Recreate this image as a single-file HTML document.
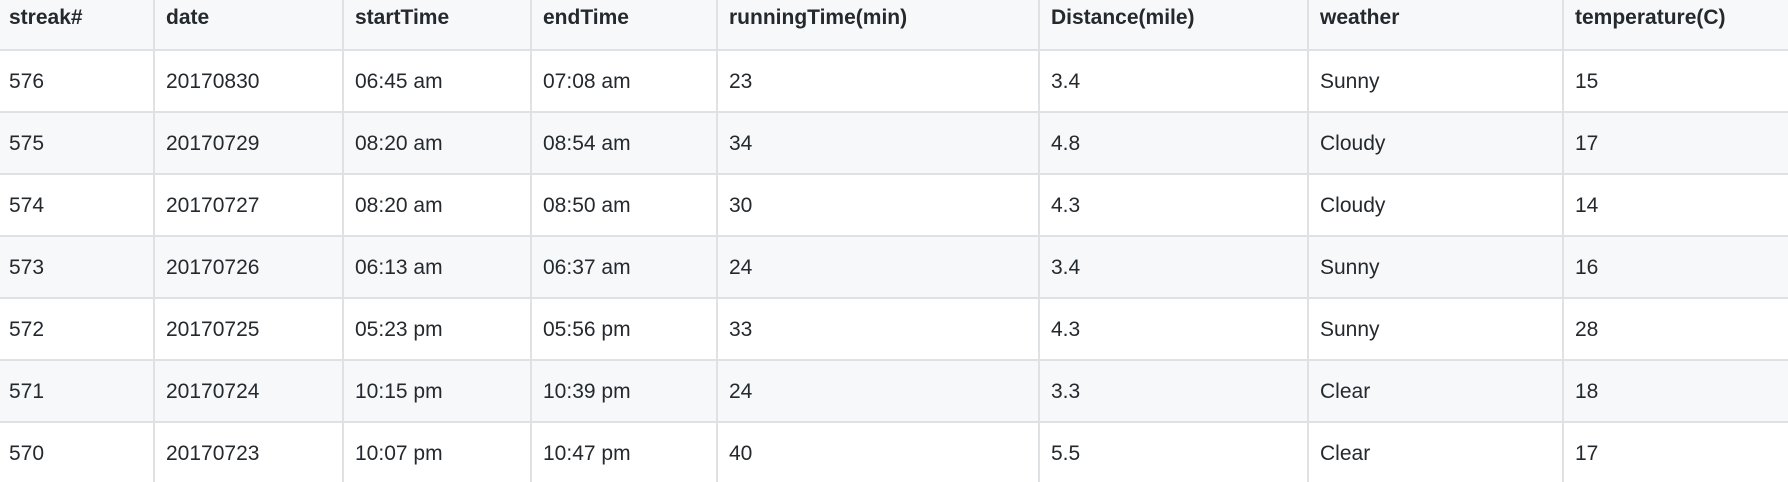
<!DOCTYPE html>
<html><head><meta charset="utf-8"><style>
html,body{margin:0;padding:0;background:#fff;width:1788px;height:482px;overflow:hidden}
table{border-collapse:separate;border-spacing:0;table-layout:fixed;width:1790px;font-family:"Liberation Sans",Arial,sans-serif;font-size:21px;color:#24292e}
td,th{box-sizing:border-box;border-right:2px solid #dfe2e5;border-bottom:2px solid #dfe2e5;padding:0 0 0 11px;text-align:left;white-space:nowrap;overflow:hidden}
th{height:51px;font-weight:bold;background:#f6f8fa;padding-bottom:14px}
td{height:62px;padding-top:2px}
tr.alt td{background:#f6f8fa}
td:first-child,th:first-child{padding-left:9px}
</style></head><body>
<table>
<colgroup><col style="width:155px"><col style="width:189px"><col style="width:188px"><col style="width:186px"><col style="width:322px"><col style="width:269px"><col style="width:255px"><col style="width:226px"></colgroup>
<tr><th>streak#</th><th>date</th><th>startTime</th><th>endTime</th><th>runningTime(min)</th><th>Distance(mile)</th><th>weather</th><th>temperature(C)</th></tr>
<tr><td>576</td><td>20170830</td><td>06:45 am</td><td>07:08 am</td><td>23</td><td>3.4</td><td>Sunny</td><td>15</td></tr>
<tr class="alt"><td>575</td><td>20170729</td><td>08:20 am</td><td>08:54 am</td><td>34</td><td>4.8</td><td>Cloudy</td><td>17</td></tr>
<tr><td>574</td><td>20170727</td><td>08:20 am</td><td>08:50 am</td><td>30</td><td>4.3</td><td>Cloudy</td><td>14</td></tr>
<tr class="alt"><td>573</td><td>20170726</td><td>06:13 am</td><td>06:37 am</td><td>24</td><td>3.4</td><td>Sunny</td><td>16</td></tr>
<tr><td>572</td><td>20170725</td><td>05:23 pm</td><td>05:56 pm</td><td>33</td><td>4.3</td><td>Sunny</td><td>28</td></tr>
<tr class="alt"><td>571</td><td>20170724</td><td>10:15 pm</td><td>10:39 pm</td><td>24</td><td>3.3</td><td>Clear</td><td>18</td></tr>
<tr><td>570</td><td>20170723</td><td>10:07 pm</td><td>10:47 pm</td><td>40</td><td>5.5</td><td>Clear</td><td>17</td></tr>
</table>
</body></html>
